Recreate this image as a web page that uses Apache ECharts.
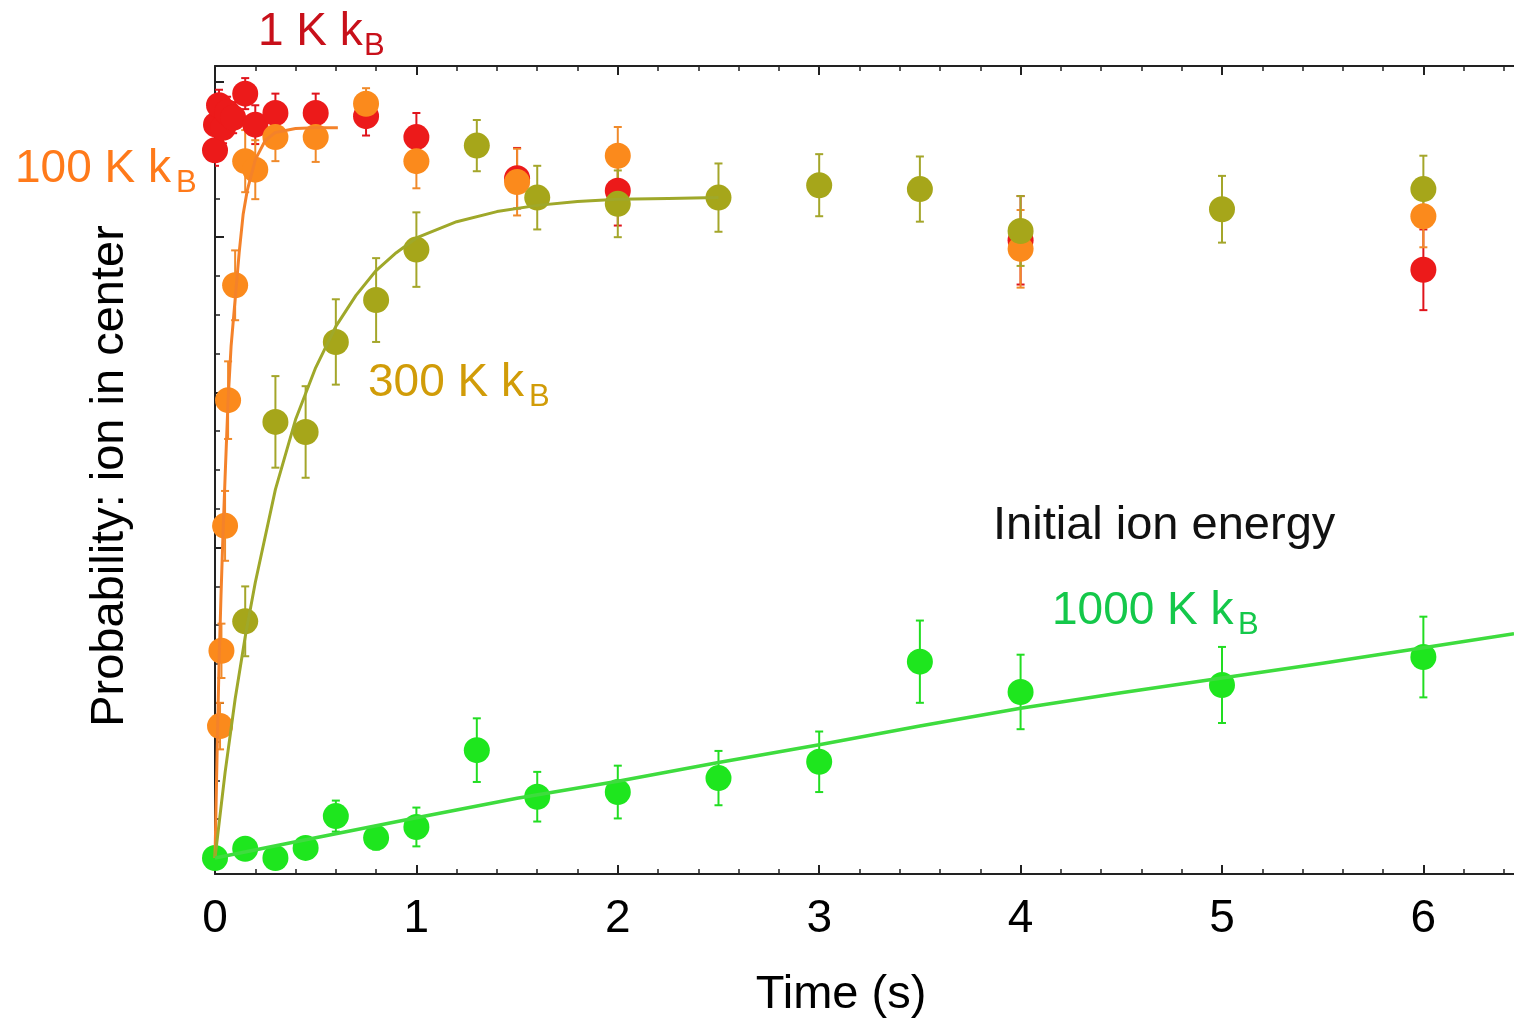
<!DOCTYPE html>
<html>
<head>
<meta charset="utf-8">
<title>Probability: ion in center</title>
<script src="https://cdn.jsdelivr.net/npm/echarts@6.0.0/dist/echarts.min.js"></script>
<style>
html, body {margin:0;padding:0;background:#fff;}
#main {width:1514px;height:1024px;}
</style>
</head>
<body>
<div id="main"></div>
<script>
// 1 K kB
var tRed = [0, 0.005, 0.02, 0.04, 0.06, 0.09, 0.15, 0.2, 0.3, 0.5, 0.75, 1.0, 1.5, 2.0, 4.0, 6.0];
var pRed = [0.912, 0.945, 0.970, 0.941, 0.961, 0.954, 0.985, 0.945, 0.960, 0.960, 0.956, 0.929, 0.876, 0.860, 0.796, 0.758];
var eRed = [0.02, 0.02, 0.02, 0.02, 0.02, 0.02, 0.02, 0.025, 0.025, 0.025, 0.025, 0.031, 0.039, 0.045, 0.057, 0.052];

// 100 K kB
var tOrange = [0.025, 0.032, 0.05, 0.065, 0.1, 0.15, 0.2, 0.3, 0.5, 0.75, 1.0, 1.5, 2.0, 4.0, 6.0];
var pOrange = [0.170, 0.267, 0.428, 0.590, 0.738, 0.898, 0.887, 0.929, 0.929, 0.972, 0.898, 0.871, 0.905, 0.785, 0.827];
var eOrange = [0.03, 0.035, 0.045, 0.05, 0.045, 0.04, 0.038, 0.031, 0.032, 0.02, 0.035, 0.043, 0.037, 0.05, 0.04];
var tOrangeFit = [0, 0.01, 0.02, 0.03, 0.04, 0.05, 0.065, 0.08, 0.1, 0.12, 0.14, 0.16, 0.18, 0.2, 0.25, 0.3, 0.4, 0.5, 0.61];
var pOrangeFit = [0, 0.13, 0.25, 0.34, 0.42, 0.49, 0.59, 0.66, 0.72, 0.78, 0.83, 0.86, 0.88, 0.9, 0.925, 0.935, 0.94, 0.941, 0.941];

// 300 K kB
var tOlive = [0.15, 0.3, 0.45, 0.6, 0.8, 1.0, 1.3, 1.6, 2.0, 2.5, 3.0, 3.5, 4.0, 5.0, 6.0];
var pOlive = [0.305, 0.562, 0.549, 0.665, 0.719, 0.784, 0.918, 0.851, 0.843, 0.851, 0.867, 0.862, 0.808, 0.836, 0.862];
var eOlive = [0.045, 0.059, 0.059, 0.055, 0.054, 0.048, 0.033, 0.041, 0.043, 0.044, 0.040, 0.042, 0.045, 0.043, 0.043];
var tOliveFit = [0, 0.05, 0.1, 0.15, 0.2, 0.3, 0.4, 0.5, 0.6, 0.7, 0.8, 0.9, 1.0, 1.2, 1.4, 1.6, 1.8, 2.0, 2.25, 2.5];
var pOliveFit = [0, 0.11, 0.205, 0.285, 0.355, 0.475, 0.565, 0.632, 0.685, 0.725, 0.757, 0.78, 0.799, 0.82, 0.833, 0.841, 0.846, 0.849, 0.85, 0.851];

// 1000 K kB
var tGreen = [0, 0.15, 0.3, 0.45, 0.6, 0.8, 1.0, 1.3, 1.6, 2.0, 2.5, 3.0, 3.5, 4.0, 5.0, 6.0];
var pGreen = [0.0, 0.012, 0.0, 0.013, 0.054, 0.026, 0.040, 0.139, 0.079, 0.085, 0.103, 0.124, 0.253, 0.214, 0.223, 0.259];
var eGreen = [0.01, 0.01, 0.01, 0.012, 0.02, 0.015, 0.025, 0.041, 0.032, 0.034, 0.035, 0.039, 0.053, 0.048, 0.049, 0.052];
var tGreenFit = [0, 0.5, 1, 1.5, 2, 2.5, 3, 3.5, 4, 4.5, 5, 5.5, 6, 6.45];
var pGreenFit = [0, 0.026, 0.052, 0.077, 0.099, 0.123, 0.146, 0.17, 0.193, 0.213, 0.232, 0.251, 0.271, 0.289];

// ticks
var xMajor = [0, 1, 2, 3, 4, 5, 6];
var xMinor = [0, 0.2, 0.4, 0.6, 0.8, 1, 1.2, 1.4, 1.6, 1.8, 2, 2.2, 2.4, 2.6, 2.8, 3, 3.2, 3.4, 3.6, 3.8,
    4, 4.2, 4.4, 4.6, 4.8, 5, 5.2, 5.4, 5.6, 5.8, 6, 6.2, 6.4];
var yMajor = [0, 0.2, 0.4, 0.6, 0.8, 1];
var yMinor = [0, 0.05, 0.1, 0.15, 0.2, 0.25, 0.3, 0.35, 0.4, 0.45, 0.5, 0.55, 0.6, 0.65, 0.7, 0.75, 0.8, 0.85, 0.9, 0.95, 1];

var FONT = "'Liberation Sans', Arial, sans-serif";

function pairs(t, p) {
    return t.map(function (v, i) { return [v, p[i]]; });
}
function bars(t, p, e) {
    return t.map(function (v, i) { return [v, p[i] - e[i], p[i] + e[i]]; });
}

//误差棒
function errorSeries(t, p, e, color) {
    return {
        type: 'custom',
        data: bars(t, p, e),
        encode: {x: 0, y: [1, 2]},
        clip: true,
        renderItem: function (params, api) {
            var x = api.value(0);
            var lo = api.coord([x, api.value(1)]);
            var hi = api.coord([x, api.value(2)]);
            var w = 4;
            var st = {stroke: color, lineWidth: 2};
            return {
                type: 'group',
                children: [
                    {type: 'line', shape: {x1: lo[0], y1: lo[1], x2: hi[0], y2: hi[1]}, style: st},
                    {type: 'line', shape: {x1: lo[0] - w, y1: lo[1], x2: lo[0] + w, y2: lo[1]}, style: st},
                    {type: 'line', shape: {x1: hi[0] - w, y1: hi[1], x2: hi[0] + w, y2: hi[1]}, style: st}
                ]
            };
        }
    };
}
function pointSeries(t, p, color) {
    return {
        type: 'scatter',
        data: pairs(t, p),
        symbol: 'circle',
        symbolSize: 26,
        clip: true,
        itemStyle: {color: color, opacity: 1}
    };
}
function fitSeries(t, p, color, width) {
    return {
        type: 'line',
        data: pairs(t, p),
        smooth: false,
        symbol: 'none',
        clip: true,
        lineStyle: {color: color, width: width, join: 'round'}
    };
}

var chart = echarts.init(document.getElementById('main'));

var axisLine = {show: true, onZero: false, lineStyle: {color: '#222', width: 2}};
var noLine = {show: false, onZero: false};

var option = {
    backgroundColor: '#fff',
    animation: false,
    grid: {left: 215, right: 0, top: 66, bottom: 150, containLabel: false},
    xAxis: [
        {type: 'value', min: 0, max: 6.45, position: 'bottom', axisLine: axisLine,
            axisTick: {inside: true, length: 9, customValues: xMajor, lineStyle: {color: '#222', width: 2}},
            axisLabel: {customValues: xMajor, fontSize: 46, fontFamily: FONT, color: '#000', margin: 22},
            splitLine: {show: false}},
        {type: 'value', min: 0, max: 6.45, position: 'bottom', axisLine: noLine,
            axisTick: {inside: true, length: 5, customValues: xMinor, lineStyle: {color: '#222', width: 1.5}},
            axisLabel: {show: false}, splitLine: {show: false}},
        {type: 'value', min: 0, max: 6.45, position: 'top', axisLine: axisLine,
            axisTick: {inside: true, length: 9, customValues: xMajor, lineStyle: {color: '#222', width: 2}},
            axisLabel: {show: false}, splitLine: {show: false}},
        {type: 'value', min: 0, max: 6.45, position: 'top', axisLine: noLine,
            axisTick: {inside: true, length: 5, customValues: xMinor, lineStyle: {color: '#222', width: 1.5}},
            axisLabel: {show: false}, splitLine: {show: false}}
    ],
    yAxis: [
        {type: 'value', min: -0.0206, max: 1.0206, position: 'left', axisLine: axisLine,
            axisTick: {inside: true, length: 9, customValues: yMajor, lineStyle: {color: '#222', width: 2}},
            axisLabel: {show: false}, splitLine: {show: false}},
        {type: 'value', min: -0.0206, max: 1.0206, position: 'left', axisLine: noLine,
            axisTick: {inside: true, length: 5, customValues: yMinor, lineStyle: {color: '#222', width: 1.5}},
            axisLabel: {show: false}, splitLine: {show: false}}
    ],
    series: [
        errorSeries(tRed, pRed, eRed, '#e0141c'),
        pointSeries(tRed, pRed, '#ec1a1a'),
        fitSeries(tOrangeFit, pOrangeFit, '#f4822a', 3),
        errorSeries(tOrange, pOrange, eOrange, '#f08a2a'),
        pointSeries(tOrange, pOrange, '#fb8a1c'),
        fitSeries(tOliveFit, pOliveFit, '#9fa82a', 3),
        errorSeries(tOlive, pOlive, eOlive, '#a4a62a'),
        pointSeries(tOlive, pOlive, '#a6a61a'),
        fitSeries(tGreenFit, pGreenFit, '#3edc3e', 3.5),
        errorSeries(tGreen, pGreen, eGreen, '#22dd22'),
        pointSeries(tGreen, pGreen, '#1ee61e')
    ],
    graphic: [
        {type: 'text', x: 258, y: 32, style: {text: '1 K k', fill: '#c8101a', font: '46px ' + FONT, verticalAlign: 'middle'}},
        {type: 'text', x: 364, y: 46, style: {text: 'B', fill: '#c8101a', font: '31px ' + FONT, verticalAlign: 'middle'}},
        {type: 'text', x: 15, y: 169, style: {text: '100 K k', fill: '#ff7a1a', font: '46px ' + FONT, verticalAlign: 'middle'}},
        {type: 'text', x: 176, y: 183, style: {text: 'B', fill: '#ff7a1a', font: '31px ' + FONT, verticalAlign: 'middle'}},
        {type: 'text', x: 368, y: 383, style: {text: '300 K k', fill: '#d19c08', font: '46px ' + FONT, verticalAlign: 'middle'}},
        {type: 'text', x: 529, y: 397, style: {text: 'B', fill: '#d19c08', font: '31px ' + FONT, verticalAlign: 'middle'}},
        {type: 'text', x: 993, y: 526, style: {text: 'Initial ion energy', fill: '#111', font: '47px ' + FONT, verticalAlign: 'middle'}},
        {type: 'text', x: 1052, y: 611, style: {text: '1000 K k', fill: '#14c84a', font: '46px ' + FONT, verticalAlign: 'middle'}},
        {type: 'text', x: 1238, y: 625, style: {text: 'B', fill: '#14c84a', font: '31px ' + FONT, verticalAlign: 'middle'}},
        {type: 'text', x: 841, y: 995, style: {text: 'Time (s)', fill: '#000', font: '47px ' + FONT, align: 'center', verticalAlign: 'middle'}},
        {type: 'text', x: 110, y: 476, rotation: Math.PI / 2,
            style: {text: 'Probability: ion in center', fill: '#000', font: '47px ' + FONT, align: 'center', verticalAlign: 'middle'}}
    ]
};

chart.setOption(option);
</script>
</body>
</html>
